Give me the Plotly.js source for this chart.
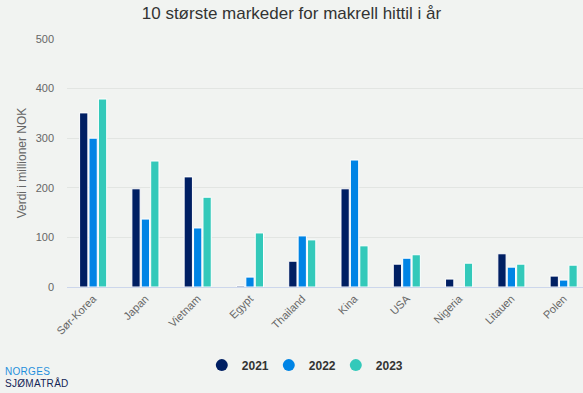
<!DOCTYPE html>
<html>
<head>
<meta charset="utf-8">
<script src="https://cdn.plot.ly/plotly-3.0.1.min.js"></script>
<style>
html,body{margin:0;padding:0;background:#f1f3f1;}
#chart{width:583px;height:393px;position:relative;}
#logo{position:absolute;left:5px;top:366px;font-family:"Liberation Sans",Arial,sans-serif;font-size:10px;line-height:11.5px;letter-spacing:0.3px;}
</style>
</head>
<body>
<div id="chart"></div>
<div id="logo"><div style="color:#1f8fdc">NORGES</div><div style="color:#142556">SJØMATRÅD</div></div>
<script>
const categories = ["Sør-Korea","Japan","Vietnam","Egypt","Thailand","Kina","USA","Nigeria","Litauen","Polen"];
const years = ["2021","2022","2023"];
const v2021 = [351, 198, 222, 2, 52, 198, 46, 16, 67, 22];
const v2022 = [300, 137, 119, 20, 103, 256, 58, 0.5, 40, 14];
const v2023 = [379, 254, 181, 109, 95, 83, 65, 48, 46, 44];
const colors = ["#001f63", "#0084e5", "#33c9ba"];

const series = [v2021, v2022, v2023];
const font = '"Liberation Sans", Arial, sans-serif';
const traces = [];
series.forEach((vals, i) => {
  traces.push({
    type: 'bar', x: categories, y: vals, name: years[i], showlegend: false,
    marker: {color: colors[i], line: {color: '#ffffff', width: 1}},
    hoverinfo: 'x+y'
  });
});
series.forEach((vals, i) => {
  traces.push({
    type: 'scatter', mode: 'markers', x: [null], y: [null], name: years[i],
    marker: {color: colors[i], size: 12, symbol: 'circle'}
  });
});

const layout = {
  width: 583, height: 393,
  paper_bgcolor: '#f1f3f1', plot_bgcolor: '#f1f3f1',
  margin: {l: 67, r: 0, t: 39, b: 106},
  font: {family: font, color: '#666666', size: 11},
  title: {text: '10 største markeder for makrell hittil i år', x: 0.5, xanchor: 'center', y: 0.967, yanchor: 'middle',
          font: {size: 17, color: '#333333', family: font}},
  barmode: 'group', bargap: 0.46, bargroupgap: 0.12,
  xaxis: {
    type: 'category', range: [-0.5, 9.37], tickangle: -45, showgrid: false, automargin: false,
    showline: true, linecolor: '#ccd6eb', linewidth: 1, ticks: '', zeroline: false,
    tickfont: {size: 11, color: '#666666'}, fixedrange: true
  },
  yaxis: {
    range: [0, 500], dtick: 100, showgrid: true, gridcolor: '#e2e5e2', gridwidth: 1, automargin: false,
    zeroline: false, showline: false, ticks: '', ticklabelstandoff: 12,
    tickfont: {size: 11, color: '#666666'},
    title: {text: 'Verdi i millioner NOK', font: {size: 12, color: '#666666'}, standoff: 6},
    fixedrange: true
  },
  legend: {
    orientation: 'h', x: 0.456, xanchor: 'center', y: -0.315, yanchor: 'middle',
    entrywidth: 22, entrywidthmode: 'pixels',
    font: {size: 12, color: '#333333', weight: 'bold'}, bgcolor: 'rgba(0,0,0,0)',
    itemclick: false, itemdoubleclick: false, tracegroupgap: 0
  },
  showlegend: true
};
Plotly.newPlot('chart', traces, layout, {displayModeBar: false, staticPlot: true});
</script>
</body>
</html>
